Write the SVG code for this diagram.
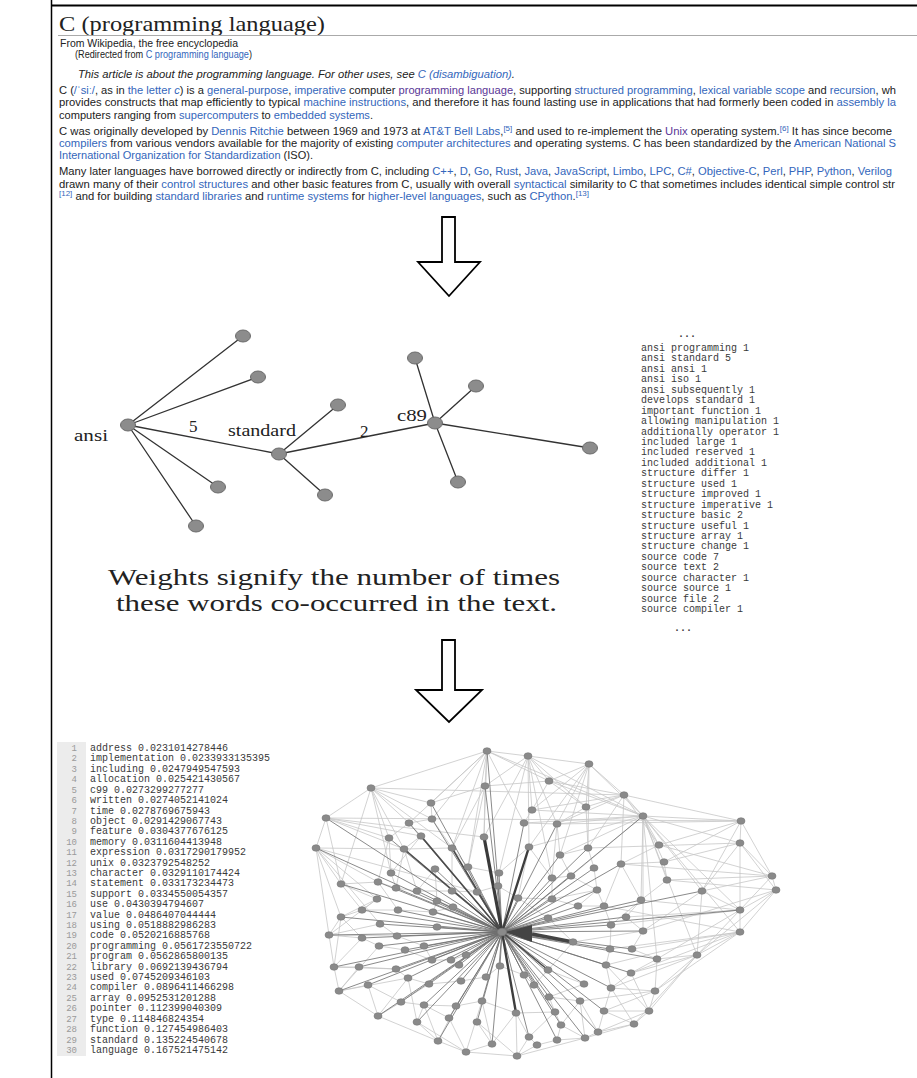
<svg xmlns="http://www.w3.org/2000/svg" width="917" height="1078" viewBox="0 0 917 1078">
<style>
.t{font-family:"Liberation Sans",Arial,sans-serif;fill:#222;font-size:10.6px}
.l{fill:#3366bb}
.v{fill:#5a3696}
.sup{font-size:7.5px}
.serif{font-family:"Liberation Serif","Times New Roman",serif;fill:#222}
.mono{font-family:"Liberation Mono","Courier New",monospace;font-size:10px;fill:#3a3a3a}
.num{font-family:"Liberation Mono","Courier New",monospace;font-size:9px;fill:#9a9a9a;text-anchor:end}
.arrow{fill:#fff;stroke:#000;stroke-width:1.8;stroke-linejoin:miter}
.me{stroke:#333;stroke-width:1.3;fill:none}
.mn{fill:#8c8c8c;stroke:#6a6a6a;stroke-width:1}
.le{stroke:#c6c6c6;stroke-width:0.8;fill:none}
.sp{stroke:#6e6e6e;stroke-width:0.9;fill:none;opacity:0.9}
.sm{stroke:#4a4a4a;stroke-width:1.6;fill:none}
.bn{fill:#8a8a8a;stroke:#7a7a7a;stroke-width:0.6}
</style>

<!-- frame -->
<line x1="51.5" y1="0" x2="51.5" y2="1078" stroke="#000" stroke-width="1.5"/>
<line x1="51" y1="5.5" x2="917" y2="5.5" stroke="#000" stroke-width="2"/>

<!-- wikipedia header -->
<g id="wiki-article">
<text class="serif" x="59" y="31" font-size="22" textLength="266" lengthAdjust="spacingAndGlyphs">C (programming language)</text>
<line x1="58" y1="35.5" x2="917" y2="35.5" stroke="#aaa" stroke-width="1"/>
<text class="t" x="60" y="46.5" font-size="8.2" fill="#333" textLength="178" lengthAdjust="spacingAndGlyphs">From Wikipedia, the free encyclopedia</text>
<text class="t" x="75" y="58" font-size="7" fill="#444" textLength="177" lengthAdjust="spacingAndGlyphs">(Redirected from <tspan fill="#3366bb">C programming language</tspan>)</text>
<text class="t" x="78" y="77.5" font-style="italic" fill="#333" textLength="437" lengthAdjust="spacingAndGlyphs">This article is about the programming language. For other uses, see <tspan class="l">C (disambiguation)</tspan>.</text>

<text class="t" x="59" y="94" textLength="837" lengthAdjust="spacingAndGlyphs">C (<tspan class="l">/ˈsiː/</tspan>, as in <tspan class="l">the letter <tspan font-style="italic">c</tspan></tspan>) is a <tspan class="l">general-purpose</tspan>, <tspan class="l">imperative</tspan> computer <tspan class="v">programming language</tspan>, supporting <tspan class="l">structured programming</tspan>, <tspan class="l">lexical variable scope</tspan> and <tspan class="l">recursion</tspan>, wh</text>
<text class="t" x="59" y="106" textLength="837" lengthAdjust="spacingAndGlyphs">provides constructs that map efficiently to typical <tspan class="l">machine instructions</tspan>, and therefore it has found lasting use in applications that had formerly been coded in <tspan class="l">assembly la</tspan></text>
<text class="t" x="59" y="118.5" textLength="314" lengthAdjust="spacingAndGlyphs">computers ranging from <tspan class="l">supercomputers</tspan> to <tspan class="l">embedded systems</tspan>.</text>

<text class="t" x="59" y="134.5" textLength="833" lengthAdjust="spacingAndGlyphs">C was originally developed by <tspan class="l">Dennis Ritchie</tspan> between 1969 and 1973 at <tspan class="l">AT&amp;T Bell Labs</tspan>,<tspan class="l sup" dy="-4">[5]</tspan><tspan dy="4"> and used to re-implement the </tspan><tspan class="v">Unix</tspan> operating system.<tspan class="l sup" dy="-4">[6]</tspan><tspan dy="4"> It has since become</tspan></text>
<text class="t" x="59" y="146.5" textLength="837" lengthAdjust="spacingAndGlyphs"><tspan class="l">compilers</tspan> from various vendors available for the majority of existing <tspan class="l">computer architectures</tspan> and operating systems. C has been standardized by the <tspan class="l">American National S</tspan></text>
<text class="t" x="59" y="158.5" textLength="254" lengthAdjust="spacingAndGlyphs"><tspan class="l">International Organization for Standardization</tspan> (ISO).</text>

<text class="t" x="59" y="175" textLength="833" lengthAdjust="spacingAndGlyphs">Many later languages have borrowed directly or indirectly from C, including <tspan class="l">C++</tspan>, <tspan class="l">D</tspan>, <tspan class="l">Go</tspan>, <tspan class="l">Rust</tspan>, <tspan class="l">Java</tspan>, <tspan class="l">JavaScript</tspan>, <tspan class="l">Limbo</tspan>, <tspan class="l">LPC</tspan>, <tspan class="l">C#</tspan>, <tspan class="l">Objective-C</tspan>, <tspan class="l">Perl</tspan>, <tspan class="l">PHP</tspan>, <tspan class="l">Python</tspan>, <tspan class="l">Verilog</tspan></text>
<text class="t" x="59" y="187.5" textLength="836" lengthAdjust="spacingAndGlyphs">drawn many of their <tspan class="l">control structures</tspan> and other basic features from C, usually with overall <tspan class="l">syntactical</tspan> similarity to C that sometimes includes identical simple control str</text>
<text class="t" x="59" y="200" textLength="530" lengthAdjust="spacingAndGlyphs"><tspan class="l sup" dy="-4">[12]</tspan><tspan dy="4"> and for building </tspan><tspan class="l">standard libraries</tspan> and <tspan class="l">runtime systems</tspan> for <tspan class="l">higher-level languages</tspan>, such as <tspan class="l">CPython</tspan>.<tspan class="l sup" dy="-4">[13]</tspan></text>
</g>

<!-- arrows -->
<g id="arrow-1"><path class="arrow" d="M442 217 H455 V262 H480 L449 296 L418 262 H442 Z"/></g>
<g id="arrow-2"><path class="arrow" d="M442 640 H455 V690 H482 L449 722 L416 690 H442 Z"/></g>

<!-- co-occurrence graph -->
<g id="cooc-edges">
<path class="me" d="M128 425 L243 336 M128 425 L258 377 M128 425 L218 487 M128 425 L196 526 M128 425 L279 454 M279 454 L338 405 M279 454 L325 495 M279 454 L435 423 M435 423 L415 358 M435 423 L476 386 M435 423 L458 482 M435 423 L590 448"/>
<text class="serif" x="189" y="432" font-size="17">5</text>
<text class="serif" x="360" y="437" font-size="17">2</text>
</g>
<g id="node-ansi"><ellipse class="mn" cx="128" cy="425" rx="7.5" ry="6"/><text class="serif" x="74" y="441" font-size="17" textLength="34" lengthAdjust="spacingAndGlyphs">ansi</text></g>
<g id="node-standard"><ellipse class="mn" cx="279" cy="454" rx="7.5" ry="6"/><text class="serif" x="228" y="436" font-size="17" textLength="68" lengthAdjust="spacingAndGlyphs">standard</text></g>
<g id="node-c89"><ellipse class="mn" cx="435" cy="423" rx="7.5" ry="6"/><text class="serif" x="397" y="421" font-size="17" textLength="30" lengthAdjust="spacingAndGlyphs">c89</text></g>
<g id="node-a1"><ellipse class="mn" cx="243" cy="336" rx="7.5" ry="6"/></g>
<g id="node-a2"><ellipse class="mn" cx="258" cy="377" rx="7.5" ry="6"/></g>
<g id="node-a3"><ellipse class="mn" cx="218" cy="487" rx="7.5" ry="6"/></g>
<g id="node-a4"><ellipse class="mn" cx="196" cy="526" rx="7.5" ry="6"/></g>
<g id="node-s1"><ellipse class="mn" cx="338" cy="405" rx="7.5" ry="6"/></g>
<g id="node-s2"><ellipse class="mn" cx="325" cy="495" rx="7.5" ry="6"/></g>
<g id="node-c1"><ellipse class="mn" cx="415" cy="358" rx="7.5" ry="6"/></g>
<g id="node-c2"><ellipse class="mn" cx="476" cy="386" rx="7.5" ry="6"/></g>
<g id="node-c3"><ellipse class="mn" cx="458" cy="482" rx="7.5" ry="6"/></g>
<g id="node-c4"><ellipse class="mn" cx="590" cy="448" rx="7.5" ry="6"/></g>

<g id="caption">
<text class="serif" x="108" y="585" font-size="23" textLength="452" lengthAdjust="spacingAndGlyphs">Weights signify the number of times</text>
<text class="serif" x="116" y="611" font-size="23" textLength="441" lengthAdjust="spacingAndGlyphs">these words co-occurred in the text.</text>
</g>

<!-- pair list -->
<g id="pair-list">
<text class="mono" x="678" y="337" font-weight="bold" font-size="12">...</text>
<text class="mono" x="641" y="351">ansi programming 1</text>
<text class="mono" x="641" y="361.4">ansi standard 5</text>
<text class="mono" x="641" y="371.9">ansi ansi 1</text>
<text class="mono" x="641" y="382.3">ansi iso 1</text>
<text class="mono" x="641" y="392.8">ansi subsequently 1</text>
<text class="mono" x="641" y="403.2">develops standard 1</text>
<text class="mono" x="641" y="413.6">important function 1</text>
<text class="mono" x="641" y="424.1">allowing manipulation 1</text>
<text class="mono" x="641" y="434.5">additionally operator 1</text>
<text class="mono" x="641" y="445">included large 1</text>
<text class="mono" x="641" y="455.4">included reserved 1</text>
<text class="mono" x="641" y="465.8">included additional 1</text>
<text class="mono" x="641" y="476.3">structure differ 1</text>
<text class="mono" x="641" y="486.7">structure used 1</text>
<text class="mono" x="641" y="497.2">structure improved 1</text>
<text class="mono" x="641" y="507.6">structure imperative 1</text>
<text class="mono" x="641" y="518">structure basic 2</text>
<text class="mono" x="641" y="528.5">structure useful 1</text>
<text class="mono" x="641" y="538.9">structure array 1</text>
<text class="mono" x="641" y="549.4">structure change 1</text>
<text class="mono" x="641" y="559.8">source code 7</text>
<text class="mono" x="641" y="570.2">source text 2</text>
<text class="mono" x="641" y="580.7">source character 1</text>
<text class="mono" x="641" y="591.1">source source 1</text>
<text class="mono" x="641" y="601.6">source file 2</text>
<text class="mono" x="641" y="612">source compiler 1</text>
<text class="mono" x="674" y="631" font-weight="bold" font-size="12">...</text>
</g>

<!-- ranked list -->
<g id="rank-list">
<rect x="57" y="742" width="29" height="314" fill="#ececec"/>
<text class="num" x="77" y="751">1</text><text class="mono" x="90" y="751">address 0.0231014278446</text>
<text class="num" x="77" y="761.4">2</text><text class="mono" x="90" y="761.4">implementation 0.0233933135395</text>
<text class="num" x="77" y="771.8">3</text><text class="mono" x="90" y="771.8">including 0.0247949547593</text>
<text class="num" x="77" y="782.2">4</text><text class="mono" x="90" y="782.2">allocation 0.025421430567</text>
<text class="num" x="77" y="792.6">5</text><text class="mono" x="90" y="792.6">c99 0.0273299277277</text>
<text class="num" x="77" y="803.1">6</text><text class="mono" x="90" y="803.1">written 0.0274052141024</text>
<text class="num" x="77" y="813.5">7</text><text class="mono" x="90" y="813.5">time 0.0278769675943</text>
<text class="num" x="77" y="823.9">8</text><text class="mono" x="90" y="823.9">object 0.0291429067743</text>
<text class="num" x="77" y="834.3">9</text><text class="mono" x="90" y="834.3">feature 0.0304377676125</text>
<text class="num" x="77" y="844.7">10</text><text class="mono" x="90" y="844.7">memory 0.0311604413948</text>
<text class="num" x="77" y="855.1">11</text><text class="mono" x="90" y="855.1">expression 0.0317290179952</text>
<text class="num" x="77" y="865.5">12</text><text class="mono" x="90" y="865.5">unix 0.0323792548252</text>
<text class="num" x="77" y="875.9">13</text><text class="mono" x="90" y="875.9">character 0.0329110174424</text>
<text class="num" x="77" y="886.3">14</text><text class="mono" x="90" y="886.3">statement 0.033173234473</text>
<text class="num" x="77" y="896.7">15</text><text class="mono" x="90" y="896.7">support 0.0334550054357</text>
<text class="num" x="77" y="907.2">16</text><text class="mono" x="90" y="907.2">use 0.0430394794607</text>
<text class="num" x="77" y="917.6">17</text><text class="mono" x="90" y="917.6">value 0.0486407044444</text>
<text class="num" x="77" y="928">18</text><text class="mono" x="90" y="928">using 0.0518882986283</text>
<text class="num" x="77" y="938.4">19</text><text class="mono" x="90" y="938.4">code 0.0520216885768</text>
<text class="num" x="77" y="948.8">20</text><text class="mono" x="90" y="948.8">programming 0.0561723550722</text>
<text class="num" x="77" y="959.2">21</text><text class="mono" x="90" y="959.2">program 0.0562865800135</text>
<text class="num" x="77" y="969.6">22</text><text class="mono" x="90" y="969.6">library 0.0692139436794</text>
<text class="num" x="77" y="980">23</text><text class="mono" x="90" y="980">used 0.0745209346103</text>
<text class="num" x="77" y="990.4">24</text><text class="mono" x="90" y="990.4">compiler 0.0896411466298</text>
<text class="num" x="77" y="1000.8">25</text><text class="mono" x="90" y="1000.8">array 0.0952531201288</text>
<text class="num" x="77" y="1011.3">26</text><text class="mono" x="90" y="1011.3">pointer 0.112399040309</text>
<text class="num" x="77" y="1021.7">27</text><text class="mono" x="90" y="1021.7">type 0.114846824354</text>
<text class="num" x="77" y="1032.1">28</text><text class="mono" x="90" y="1032.1">function 0.127454986403</text>
<text class="num" x="77" y="1042.5">29</text><text class="mono" x="90" y="1042.5">standard 0.135224540678</text>
<text class="num" x="77" y="1052.9">30</text><text class="mono" x="90" y="1052.9">language 0.167521475142</text>
</g>

<!-- word network connectors -->
<g id="net-edges">
<path class="le" d="M316 848L326 818M326 818L371 788M371 788L487 751M487 751L528 756M528 756L589 764M589 764L624 795M624 795L643 816M643 816L741 821M741 821L740 843M740 843L740 910M740 910L740 932M740 843L772 876M772 876L776 890M776 890L740 932M740 932L697 955M697 955L655 991M655 991L649 1011M649 1011L634 1024M634 1024L598 1032M598 1032L585 1038M585 1038L517 1056M517 1056L466 1052M466 1052L438 1041M438 1041L378 1016M378 1016L339 991M339 991L334 967M334 967L329 935M329 935L316 848
M487 751L485 786M487 751L524 823M487 751L549 781M487 751L431 803M487 751L484 837M487 751L468 867M487 751L409 823
M528 756L549 781M528 756L532 810M528 756L499 873M528 756L529 847M528 756L485 786M528 756L586 807
M589 764L586 807M589 764L549 781M589 764L557 824M589 764L588 848M589 764L643 816M589 764L532 810
M371 788L389 838M371 788L409 823M371 788L432 819M371 788L431 803M371 788L391 873M371 788L624 795M371 788L341 884
M326 818L389 838M326 818L341 884M326 818L741 821M326 818L421 836
M316 848L341 884M316 848L377 899M316 848L404 849M316 848L341 917M316 848L378 882
M643 816L528 756M643 816L549 781M643 816L532 810M643 816L524 823M643 816L557 824M643 816L529 847M643 816L740 843M643 816L659 845M643 816L664 862M643 816L667 880M643 816L702 891M643 816L740 910M643 816L740 932M643 816L697 955M643 816L560 855M643 816L571 876M643 816L641 900M643 816L643 931M643 816L657 959M643 816L487 751
M624 795L586 807M624 795L659 845M624 795L621 864M624 795L588 848M624 795L741 821M624 795L549 781
M741 821L772 876M741 821L659 845M741 821L664 862M741 821L702 891
M740 843L702 891M740 843L664 862M740 843L776 890
M772 876L702 891M772 876L667 880M772 876L740 910M772 876L659 845
M776 890L740 910M776 890L697 955M776 890L643 931M776 890L667 880
M740 910L702 891M740 910L697 955M740 910L641 900M740 910L611 925M740 910L657 959
M740 932L632 949M740 932L655 991M740 932L604 906M740 932L610 949M740 932L631 973
M697 955L649 1011M697 955L631 973M697 955L657 959M697 955L702 891M697 955L611 988
M655 991L657 959M655 991L611 988M655 991L604 1011
M649 1011L631 973M649 1011L598 1032M649 1011L604 1011
M634 1024L604 1011M634 1024L585 1038M634 1024L611 988
M517 1056L529 1037M517 1056L537 1045M517 1056L516 1013M517 1056L477 1022M466 1052L492 1044M466 1052L449 1018M466 1052L417 1022M438 1041L417 1022M438 1041L424 1005M378 1016L368 985M378 1016L401 1002M378 1016L408 978M339 991L368 985M339 991L359 967M339 991L379 946M334 967L362 938M334 967L359 967M334 967L341 917M329 935L341 917M329 935L362 938M329 935L380 924M329 935L377 899
M585 1038L557 1040M585 1038L561 1025M585 1038L580 1001M557 1040L537 1045M557 1040L561 1025M529 1037L537 1045M529 1037L555 1012M529 1037L516 1013M492 1044L477 1022M492 1044L516 1013M492 1044L482 1001M449 1018L456 1006M449 1018L424 1005M417 1022L424 1005M417 1022L408 978M561 1025L555 1012M561 1025L580 1001M598 1032L580 1001M598 1032L604 1011
M341 884L378 882M341 884L377 899M378 882L396 888M396 888L417 891M417 891L452 891M452 891L477 892M477 892L498 886M498 886L518 898M518 898L552 899M552 899L597 890M597 890L594 868M594 868L588 848M588 848L560 855M560 855L571 876M571 876L552 878M552 878L557 824M557 824L524 823M524 823L532 810M532 810L549 781M549 781L485 786M485 786L431 803M431 803L432 819M432 819L409 823M409 823L389 838M389 838L391 873M391 873L421 836M421 836L404 849M404 849L452 848M452 848L468 867M468 867L499 873M499 873L529 847M529 847L552 878
M485 786L484 837M485 786L452 848M485 786L468 867M432 819L452 848M409 823L421 836M389 838L378 882M391 873L396 888M404 849L396 888M404 849L417 891M452 848L452 891M435 869L417 891M435 869L437 901M468 867L477 892M499 873L498 886M529 847L518 898M552 878L552 899M571 876L597 890M557 824L560 855M586 807L588 848M586 807L557 824M586 807L549 781
M341 917L362 910M362 910L398 910M398 910L433 912M433 912L453 907M380 924L397 936M397 936L424 946M424 946L432 960M362 938L379 946M379 946L405 950M405 950L432 960M432 960L451 960M451 960L466 955M466 955L459 965M359 967L396 969M396 969L408 978M408 978L429 984M429 984L461 981M461 981L486 977M486 977L500 966M500 966L524 975M524 975L534 985M534 985L548 970M548 970L584 984M584 984L549 997M549 997L580 1001M368 985L401 1002M401 1002L424 1005M424 1005L456 1006M456 1006L482 1001M482 1001L516 1013M516 1013L555 1012M555 1012L549 997
M377 899L362 910M377 899L341 917M437 901L433 912M437 901L453 907M518 898L548 918M552 899L578 906M597 890L578 906M578 906L604 906M548 918L573 942M573 942L548 970M573 942L643 931M604 906L611 925M611 925L610 949M610 949L606 965M606 965L611 988M611 988L604 1011M641 900L626 917M626 917L643 931M643 931L632 949M632 949L657 959M657 959L631 973M631 973L611 988M621 864L641 900M659 845L621 864M664 862L667 880M667 880L641 900M702 891L643 931M664 862L621 864M621 864L604 906M641 900L611 925
M487 751L452 848M528 756L484 837M528 756L552 878M589 764L529 847M371 788L452 848M326 818L404 849M326 818L484 837M316 848L477 892M341 884L362 910M378 882L398 910M341 917L362 938M604 906L597 890M741 821L557 824M740 843L588 848M772 876L621 864M740 910L626 917M740 932L606 965M697 955L634 1024M655 991L580 1001M649 1011L606 965M466 1052L482 1001M438 1041L456 1006M378 1016L429 984M339 991L408 978M334 967L396 969M329 935L397 936M316 848L380 924M371 788L404 849M487 751L432 819M528 756L557 824M589 764L560 855M624 795L532 810M624 795L557 824"/>
<path class="sp" d="M502 932L485 786M502 932L431 803M502 932L432 819M502 932L409 823M502 932L389 838M502 932L316 848M502 932L468 867M502 932L435 869M502 932L499 873M502 932L391 873M502 932L552 878M502 932L571 876M502 932L341 884M502 932L378 882M502 932L396 888M502 932L417 891M502 932L452 891M502 932L477 892M502 932L498 886M502 932L597 890M502 932L437 901M502 932L518 898M502 932L552 899M502 932L588 848M502 932L560 855M502 932L594 868M502 932L557 824M502 932L524 823M502 932L326 818M502 932L487 751
M502 932L341 917M502 932L362 910M502 932L398 910M502 932L433 912M502 932L453 907M502 932L380 924M502 932L437 927M502 932L548 918M502 932L578 906M502 932L329 935M502 932L362 938M502 932L397 936M502 932L379 946M502 932L405 950M502 932L424 946M502 932L432 960M502 932L451 960M502 932L466 955M502 932L459 965M502 932L334 967M502 932L359 967M502 932L396 969M502 932L500 966M502 932L408 978M502 932L429 984M502 932L461 981M502 932L486 977M502 932L524 975M502 932L534 985M502 932L584 984M502 932L339 991M502 932L368 985M502 932L401 1002M502 932L424 1005M502 932L456 1006M502 932L482 1001M502 932L549 997M502 932L580 1001M502 932L555 1012M502 932L378 1016M502 932L417 1022M502 932L449 1018M502 932L477 1022M502 932L561 1025M502 932L598 1032M502 932L438 1041M502 932L492 1044M502 932L529 1037M502 932L557 1040M502 932L585 1038
M502 932L621 864M502 932L641 900M502 932L604 906M502 932L626 917M502 932L611 925M502 932L643 931M502 932L610 949M502 932L632 949M502 932L657 959M502 932L606 965M502 932L631 973M502 932L611 988M502 932L604 1011M502 932L702 891M502 932L740 910M502 932L643 816"/>
<path class="sm" d="M502 932L421 836M502 932L404 849M502 932L452 848M502 932L548 970"/>
<path d="M502 932L484 837" stroke="#3a3a3a" stroke-width="3.2" fill="none"/>
<path d="M502 932L529 847M502 932L516 1013" stroke="#3e3e3e" stroke-width="2.4" fill="none"/>
<path d="M532 934L573 942" stroke="#444" stroke-width="3.5" fill="none"/>
<polygon points="505,932 532,925 532,942" fill="#444"/>
</g>

<!-- word network nodes -->
<g id="net-nodes">
<ellipse id="hub" class="bn" cx="502" cy="932" rx="4.5" ry="3.8"/>
<ellipse class="bn" cx="487" cy="751" rx="4" ry="3.3"/><ellipse class="bn" cx="528" cy="756" rx="4" ry="3.3"/><ellipse class="bn" cx="589" cy="764" rx="4" ry="3.3"/><ellipse class="bn" cx="549" cy="781" rx="4" ry="3.3"/><ellipse class="bn" cx="485" cy="786" rx="4" ry="3.3"/><ellipse class="bn" cx="371" cy="788" rx="4" ry="3.3"/><ellipse class="bn" cx="431" cy="803" rx="4" ry="3.3"/><ellipse class="bn" cx="532" cy="810" rx="4" ry="3.3"/><ellipse class="bn" cx="586" cy="807" rx="4" ry="3.3"/><ellipse class="bn" cx="326" cy="818" rx="4" ry="3.3"/><ellipse class="bn" cx="432" cy="819" rx="4" ry="3.3"/><ellipse class="bn" cx="524" cy="823" rx="4" ry="3.3"/><ellipse class="bn" cx="409" cy="823" rx="4" ry="3.3"/><ellipse class="bn" cx="557" cy="824" rx="4" ry="3.3"/><ellipse class="bn" cx="421" cy="836" rx="4" ry="3.3"/><ellipse class="bn" cx="389" cy="838" rx="4" ry="3.3"/><ellipse class="bn" cx="484" cy="837" rx="4" ry="3.3"/><ellipse class="bn" cx="316" cy="848" rx="4" ry="3.3"/><ellipse class="bn" cx="404" cy="849" rx="4" ry="3.3"/><ellipse class="bn" cx="452" cy="848" rx="4" ry="3.3"/><ellipse class="bn" cx="529" cy="847" rx="4" ry="3.3"/><ellipse class="bn" cx="588" cy="848" rx="4" ry="3.3"/><ellipse class="bn" cx="560" cy="855" rx="4" ry="3.3"/><ellipse class="bn" cx="468" cy="867" rx="4" ry="3.3"/><ellipse class="bn" cx="435" cy="869" rx="4" ry="3.3"/><ellipse class="bn" cx="499" cy="873" rx="4" ry="3.3"/><ellipse class="bn" cx="594" cy="868" rx="4" ry="3.3"/><ellipse class="bn" cx="391" cy="873" rx="4" ry="3.3"/><ellipse class="bn" cx="552" cy="878" rx="4" ry="3.3"/><ellipse class="bn" cx="571" cy="876" rx="4" ry="3.3"/><ellipse class="bn" cx="341" cy="884" rx="4" ry="3.3"/><ellipse class="bn" cx="378" cy="882" rx="4" ry="3.3"/><ellipse class="bn" cx="396" cy="888" rx="4" ry="3.3"/><ellipse class="bn" cx="417" cy="891" rx="4" ry="3.3"/><ellipse class="bn" cx="452" cy="891" rx="4" ry="3.3"/><ellipse class="bn" cx="477" cy="892" rx="4" ry="3.3"/><ellipse class="bn" cx="498" cy="886" rx="4" ry="3.3"/><ellipse class="bn" cx="597" cy="890" rx="4" ry="3.3"/><ellipse class="bn" cx="377" cy="899" rx="4" ry="3.3"/><ellipse class="bn" cx="437" cy="901" rx="4" ry="3.3"/><ellipse class="bn" cx="518" cy="898" rx="4" ry="3.3"/><ellipse class="bn" cx="552" cy="899" rx="4" ry="3.3"/>
<ellipse class="bn" cx="341" cy="917" rx="4" ry="3.3"/><ellipse class="bn" cx="362" cy="910" rx="4" ry="3.3"/><ellipse class="bn" cx="398" cy="910" rx="4" ry="3.3"/><ellipse class="bn" cx="433" cy="912" rx="4" ry="3.3"/><ellipse class="bn" cx="453" cy="907" rx="4" ry="3.3"/><ellipse class="bn" cx="380" cy="924" rx="4" ry="3.3"/><ellipse class="bn" cx="437" cy="927" rx="4" ry="3.3"/><ellipse class="bn" cx="548" cy="918" rx="4" ry="3.3"/><ellipse class="bn" cx="578" cy="906" rx="4" ry="3.3"/><ellipse class="bn" cx="329" cy="935" rx="4" ry="3.3"/><ellipse class="bn" cx="362" cy="938" rx="4" ry="3.3"/><ellipse class="bn" cx="397" cy="936" rx="4" ry="3.3"/><ellipse class="bn" cx="573" cy="942" rx="4" ry="3.3"/><ellipse class="bn" cx="379" cy="946" rx="4" ry="3.3"/><ellipse class="bn" cx="405" cy="950" rx="4" ry="3.3"/><ellipse class="bn" cx="424" cy="946" rx="4" ry="3.3"/><ellipse class="bn" cx="432" cy="960" rx="4" ry="3.3"/><ellipse class="bn" cx="451" cy="960" rx="4" ry="3.3"/><ellipse class="bn" cx="466" cy="955" rx="4" ry="3.3"/><ellipse class="bn" cx="459" cy="965" rx="4" ry="3.3"/><ellipse class="bn" cx="334" cy="967" rx="4" ry="3.3"/><ellipse class="bn" cx="359" cy="967" rx="4" ry="3.3"/><ellipse class="bn" cx="396" cy="969" rx="4" ry="3.3"/><ellipse class="bn" cx="500" cy="966" rx="4" ry="3.3"/><ellipse class="bn" cx="548" cy="970" rx="4" ry="3.3"/><ellipse class="bn" cx="408" cy="978" rx="4" ry="3.3"/><ellipse class="bn" cx="429" cy="984" rx="4" ry="3.3"/><ellipse class="bn" cx="461" cy="981" rx="4" ry="3.3"/><ellipse class="bn" cx="486" cy="977" rx="4" ry="3.3"/><ellipse class="bn" cx="524" cy="975" rx="4" ry="3.3"/><ellipse class="bn" cx="534" cy="985" rx="4" ry="3.3"/><ellipse class="bn" cx="584" cy="984" rx="4" ry="3.3"/><ellipse class="bn" cx="339" cy="991" rx="4" ry="3.3"/><ellipse class="bn" cx="368" cy="985" rx="4" ry="3.3"/><ellipse class="bn" cx="401" cy="1002" rx="4" ry="3.3"/><ellipse class="bn" cx="424" cy="1005" rx="4" ry="3.3"/><ellipse class="bn" cx="456" cy="1006" rx="4" ry="3.3"/><ellipse class="bn" cx="482" cy="1001" rx="4" ry="3.3"/><ellipse class="bn" cx="516" cy="1013" rx="4" ry="3.3"/><ellipse class="bn" cx="549" cy="997" rx="4" ry="3.3"/><ellipse class="bn" cx="580" cy="1001" rx="4" ry="3.3"/><ellipse class="bn" cx="555" cy="1012" rx="4" ry="3.3"/><ellipse class="bn" cx="378" cy="1016" rx="4" ry="3.3"/><ellipse class="bn" cx="417" cy="1022" rx="4" ry="3.3"/><ellipse class="bn" cx="449" cy="1018" rx="4" ry="3.3"/><ellipse class="bn" cx="477" cy="1022" rx="4" ry="3.3"/><ellipse class="bn" cx="561" cy="1025" rx="4" ry="3.3"/><ellipse class="bn" cx="598" cy="1032" rx="4" ry="3.3"/><ellipse class="bn" cx="438" cy="1041" rx="4" ry="3.3"/><ellipse class="bn" cx="492" cy="1044" rx="4" ry="3.3"/><ellipse class="bn" cx="529" cy="1037" rx="4" ry="3.3"/><ellipse class="bn" cx="557" cy="1040" rx="4" ry="3.3"/><ellipse class="bn" cx="585" cy="1038" rx="4" ry="3.3"/><ellipse class="bn" cx="537" cy="1045" rx="4" ry="3.3"/><ellipse class="bn" cx="466" cy="1052" rx="4" ry="3.3"/><ellipse class="bn" cx="517" cy="1056" rx="4" ry="3.3"/>
<ellipse class="bn" cx="624" cy="795" rx="4" ry="3.3"/><ellipse class="bn" cx="643" cy="816" rx="4" ry="3.3"/><ellipse class="bn" cx="741" cy="821" rx="4" ry="3.3"/><ellipse class="bn" cx="740" cy="843" rx="4" ry="3.3"/><ellipse class="bn" cx="659" cy="845" rx="4" ry="3.3"/><ellipse class="bn" cx="664" cy="862" rx="4" ry="3.3"/><ellipse class="bn" cx="621" cy="864" rx="4" ry="3.3"/><ellipse class="bn" cx="667" cy="880" rx="4" ry="3.3"/><ellipse class="bn" cx="772" cy="876" rx="4" ry="3.3"/><ellipse class="bn" cx="776" cy="890" rx="4" ry="3.3"/><ellipse class="bn" cx="702" cy="891" rx="4" ry="3.3"/><ellipse class="bn" cx="641" cy="900" rx="4" ry="3.3"/><ellipse class="bn" cx="604" cy="906" rx="4" ry="3.3"/><ellipse class="bn" cx="740" cy="910" rx="4" ry="3.3"/><ellipse class="bn" cx="626" cy="917" rx="4" ry="3.3"/><ellipse class="bn" cx="611" cy="925" rx="4" ry="3.3"/><ellipse class="bn" cx="643" cy="931" rx="4" ry="3.3"/><ellipse class="bn" cx="740" cy="932" rx="4" ry="3.3"/><ellipse class="bn" cx="610" cy="949" rx="4" ry="3.3"/><ellipse class="bn" cx="632" cy="949" rx="4" ry="3.3"/><ellipse class="bn" cx="697" cy="955" rx="4" ry="3.3"/><ellipse class="bn" cx="657" cy="959" rx="4" ry="3.3"/><ellipse class="bn" cx="606" cy="965" rx="4" ry="3.3"/><ellipse class="bn" cx="631" cy="973" rx="4" ry="3.3"/><ellipse class="bn" cx="611" cy="988" rx="4" ry="3.3"/><ellipse class="bn" cx="655" cy="991" rx="4" ry="3.3"/><ellipse class="bn" cx="604" cy="1011" rx="4" ry="3.3"/><ellipse class="bn" cx="649" cy="1011" rx="4" ry="3.3"/><ellipse class="bn" cx="634" cy="1024" rx="4" ry="3.3"/>
</g>
</svg>
